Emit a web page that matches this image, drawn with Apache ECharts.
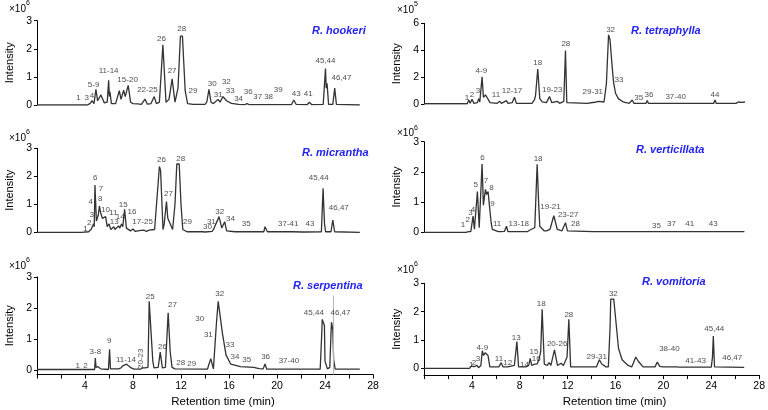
<!DOCTYPE html>
<html>
<head>
<meta charset="utf-8">
<title>Rauvolfia chromatograms</title>
<script src="https://cdn.jsdelivr.net/npm/echarts@6/dist/echarts.min.js"></script>
<style>
  html, body { margin: 0; padding: 0; background: #fff; }
  #chart { width: 768px; height: 410px; }
</style>
</head>
<body>
<div id="chart"></div>
<script>
  // traces: [retention time (min), intensity]
  var hookeri = [[0,0],[4.2,0],[4.4,0.05],[4.5,0.02],[4.6,0.15],[4.75,0.05],[4.91,0.56],[5.05,0.15],[5.33,0.36],[5.6,0.08],[5.85,0.1],[5.97,0.88],[6.03,0.3],[6.08,0.47],[6.2,0.05],[6.55,0.05],[6.86,0.51],[7.0,0.2],[7.22,0.53],[7.35,0.3],[7.6,0.7],[7.8,0.1],[8.0,0.05],[8.4,0.04],[8.7,0.02],[9.0,0.21],[9.2,0.03],[9.5,0.05],[9.77,0.3],[9.95,0.05],[10.2,0.1],[10.49,2.14],[10.75,0.1],[11.0,0.2],[11.26,0.93],[11.5,0.1],[11.75,0.6],[11.95,2.45],[12.12,2.45],[12.35,0.5],[12.55,0.05],[13.0,0.02],[14.0,0.02],[14.15,0.1],[14.33,0.56],[14.5,0.1],[14.7,0.05],[15.09,0.2],[15.25,0.1],[15.5,0.3],[15.8,0.15],[16.2,0.06],[16.8,0.02],[17.3,0.01],[17.5,0.05],[17.7,0.01],[18.8,0.01],[18.9,0.04],[19.1,0.01],[21.2,0.01],[21.4,0.18],[21.6,0.02],[22.5,0.01],[22.7,0.1],[22.9,0.01],[23.85,0.02],[24.04,1.3],[24.1,0.6],[24.17,0.77],[24.3,0.02],[24.65,0.02],[24.81,0.6],[24.95,0.02],[26.9,0]];
  var tetraphylla = [[0,0.02],[2.35,0.02],[2.42,0.08],[2.5,0.02],[3.6,0.02],[3.73,0.3],[3.85,0.05],[4.0,0.35],[4.15,0.05],[4.45,0.1],[4.56,0.4],[4.65,0.15],[4.84,2.03],[4.95,0.5],[5.12,0.67],[5.25,0.5],[5.35,0.45],[5.5,0.1],[6.1,0.05],[6.31,0.2],[6.45,0.05],[6.87,0.25],[7.0,0.05],[7.35,0.1],[7.54,0.5],[7.7,0.05],[9.0,0.05],[9.2,0.3],[9.29,0.6],[9.35,0.5],[9.48,2.6],[9.65,0.4],[9.85,0.15],[10.2,0.1],[10.46,0.55],[10.65,0.1],[11.1,0.2],[11.3,0.05],[11.65,0.2],[11.79,3.97],[11.9,0.1],[13.6,0.05],[13.65,0.1],[13.75,0.05],[14.35,0.15],[14.45,0.08],[14.57,0.2],[14.7,0.1],[15.0,0.15],[15.2,1.5],[15.38,5.14],[15.5,4.8],[15.68,2.78],[15.8,1.6],[15.96,0.8],[16.2,0.4],[16.6,0.15],[17.1,0.05],[17.35,0.3],[17.5,0.05],[18.5,0.05],[18.6,0.25],[18.7,0.05],[19.5,0.05],[19.58,0.1],[19.7,0.05],[24.15,0.05],[24.25,0.3],[24.35,0.05],[26.0,0.05],[26.2,0.15],[26.5,0.12],[26.75,0.15]];
  var micrantha = [[0,0],[3.5,0],[3.6,0.03],[3.7,0],[4.3,0.02],[4.5,0.1],[4.6,0.05],[4.72,0.3],[4.77,0.2],[4.83,1.69],[4.95,0.4],[5.1,0.6],[5.2,0.94],[5.3,0.7],[5.45,0.5],[5.72,0.56],[5.85,0.2],[6.0,0.3],[6.15,0.1],[6.4,0.2],[6.5,0.1],[6.8,0.23],[6.9,0.15],[7.05,0.3],[7.15,0.2],[7.3,0.82],[7.45,0.15],[7.6,0.1],[7.8,0.05],[8.0,0.12],[8.2,0.03],[8.5,0.06],[8.65,0.02],[8.9,0.08],[9.1,0.03],[9.35,0.08],[9.5,0.05],[9.8,0.1],[10.05,1.5],[10.2,2.35],[10.3,2.2],[10.5,0.1],[10.6,0.3],[10.79,1.1],[10.9,0.5],[11.0,0.45],[11.3,0.1],[11.5,1.0],[11.65,2.44],[11.85,2.44],[12.0,1.0],[12.15,0.1],[12.5,0.02],[13.8,0.02],[13.9,0.03],[14.0,0.01],[14.6,0.03],[14.76,0.15],[14.85,0.1],[15.17,0.56],[15.4,0.15],[15.64,0.38],[15.8,0.05],[16.5,0.02],[18.9,0.02],[19.0,0.2],[19.2,0.02],[20.3,0.02],[20.4,0.04],[20.5,0.02],[21.1,0.02],[21.2,0.08],[21.3,0.02],[22.1,0.01],[22.2,0.03],[22.3,0.01],[23.7,0.02],[23.84,1.57],[23.9,0.9],[23.96,0.3],[24.05,0.02],[24.5,0.02],[24.65,0.44],[24.8,0.02],[26.9,0]];
  var verticillata = [[0,0],[3.3,0],[3.4,0.03],[3.5,0],[3.7,0.02],[3.8,0.05],[3.9,0.02],[4.09,0.54],[4.2,0.1],[4.45,1.35],[4.6,0.15],[4.84,2.26],[4.95,0.9],[5.12,1.42],[5.22,1.25],[5.34,1.35],[5.45,0.9],[5.6,0.3],[5.7,0.1],[6.2,0.02],[6.3,0.08],[6.4,0.02],[6.7,0.03],[6.87,0.2],[7.0,0.02],[8.6,0.02],[8.95,0.1],[9.23,0.15],[9.43,2.25],[9.55,1.0],[9.65,0.2],[10.0,0.05],[10.2,0.05],[10.5,0.1],[10.82,0.55],[11.1,0.1],[11.5,0.05],[11.79,0.32],[11.95,0.05],[14.1,0.02],[14.2,0.06],[14.3,0.02],[17.2,0.02],[17.3,0.05],[17.4,0.02],[18.9,0.02],[19.0,0.05],[19.1,0.02],[26.7,0.02]];
  var serpentina = [[0,0.03],[3.4,0.03],[3.48,0.08],[3.55,0.03],[4.0,0.03],[4.1,0.05],[4.2,0.03],[4.8,0.03],[4.86,0.4],[4.92,0.1],[5.1,0.12],[5.3,0.05],[5.95,0.03],[6.05,0.68],[6.12,0.05],[6.8,0.05],[6.86,0.1],[7.0,0.08],[7.15,0.15],[7.3,0.12],[7.46,0.2],[7.6,0.15],[7.85,0.08],[8.1,0.04],[8.6,0.04],[8.8,0.08],[9.0,0.08],[9.1,0.04],[9.25,0.1],[9.35,2.22],[9.48,2.22],[9.65,0.3],[9.75,0.08],[10.1,0.1],[10.27,0.59],[10.45,0.08],[10.7,0.1],[10.93,1.85],[11.1,0.6],[11.25,0.1],[11.5,0.05],[14.2,0.04],[14.48,0.38],[14.7,0.05],[14.85,0.1],[14.95,1.5],[15.1,2.22],[15.2,2.2],[15.45,1.2],[15.75,0.5],[16.15,0.2],[16.95,0.12],[18.07,0.1],[18.5,0.06],[18.85,0.05],[19.0,0.21],[19.15,0.04],[21.0,0.04],[21.1,0.06],[21.2,0.04],[23.6,0.04],[23.72,1.1],[23.77,1.64],[23.85,1.6],[23.95,1.45],[24.0,0.3],[24.2,0.05],[24.4,0.1],[24.5,1.2],[24.54,1.55],[24.65,1.3],[24.72,0.35],[24.85,0.04],[26.9,0.04]];
  var vomitoria = [[0,0],[3.8,0],[3.95,0.08],[4.05,0.02],[4.2,0.06],[4.3,0.02],[4.45,0.1],[4.55,0.02],[4.75,0.1],[4.87,0.62],[4.98,0.45],[5.1,0.55],[5.2,0.55],[5.35,0.45],[5.5,0.05],[6.25,0.05],[6.45,0.2],[6.6,0.05],[7.0,0.05],[7.55,0.1],[7.76,0.94],[7.9,0.05],[8.3,0.05],[8.5,0.05],[8.75,0.1],[8.87,0.35],[9.0,0.1],[9.25,0.15],[9.32,0.2],[9.45,0.15],[9.6,0.3],[9.75,0.6],[9.87,2.08],[10.05,0.15],[10.3,0.1],[10.45,0.2],[10.6,0.1],[10.9,0.65],[11.15,0.1],[11.45,0.18],[11.65,0.1],[11.8,0.12],[11.95,0.4],[12.1,1.73],[12.25,0.05],[14.4,0.05],[14.65,0.3],[14.85,0.15],[14.99,0.2],[15.2,0.05],[15.4,0.05],[15.55,1.5],[15.6,2.44],[15.85,2.44],[16.0,1.8],[16.25,0.7],[16.55,0.3],[17.05,0.1],[17.35,0.05],[17.5,0.2],[17.69,0.4],[17.9,0.25],[18.3,0.05],[19.0,0.05],[19.16,0.12],[19.3,0.05],[19.49,0.22],[19.7,0.07],[19.95,0.05],[20.8,0.05],[20.9,0.07],[21.1,0.05],[21.2,0.06],[21.3,0.04],[24.0,0.04],[24.1,0.4],[24.17,1.14],[24.27,0.05],[26.75,0.03]];

  // peak labels: [text, time, intensity, rotation]
  var hookeriLabels = [['1',3.45,0.27],['3',4.14,0.24],['4',4.58,0.33],['5-9',4.72,0.71],['11-14',5.97,1.21],['15-20',7.55,0.89],['22-25',9.2,0.53],['26',10.38,2.37],['27',11.26,1.22],['28',12.06,2.72],['29',13.0,0.51],['30',14.6,0.75],['31',15.1,0.36],['32',15.78,0.83],['33',16.1,0.51],['34',16.8,0.21],['36',17.6,0.47],['37',18.4,0.28],['38',19.3,0.28],['39',20.1,0.53],['43',21.6,0.39],['41',22.6,0.39],['45,44',24.04,1.57],['46,47',25.37,0.98]];
  var tetraphyllaLabels = [['1',3.59,0.47],['2',4.0,0.67],['3',4.5,0.99],['4-9',4.78,2.48],['11',6.0,0.72],['12-17',7.34,0.99],['18',9.48,3.1],['19-23',10.68,1.04],['28',11.82,4.44],['29-31',14.07,0.89],['32',15.55,5.51],['33',16.24,1.79],['35',17.9,0.47],['36',18.74,0.72],['37-40',20.97,0.55],['44',24.25,0.72]];
  var micranthaLabels = [['1',4.03,0.14],['2',4.36,0.35],['3',4.56,0.64],['4',4.47,1.1],['6',4.86,1.93],['7',5.33,1.55],['8',5.27,1.18],['10',5.7,0.82],['11',6.35,0.71],['13',6.44,0.38],['14',6.94,0.56],['15',7.19,0.98],['16',7.91,0.74],['17-25',8.8,0.38],['26',10.38,2.58],['27',10.96,1.37],['28',11.98,2.64],['29',12.54,0.38],['30',14.2,0.2],['31',14.53,0.38],['32',15.22,0.74],['34',16.13,0.5],['35',17.44,0.29],['37-41',20.94,0.32],['43',22.74,0.29],['45,44',23.48,1.93],['46,47',25.15,0.86]];
  var verticillataLabels = [['1',3.25,0.24],['2',3.64,0.4],['3',3.87,0.66],['4',4.09,0.74],['5',4.31,1.57],['6',4.87,2.48],['7',5.17,1.71],['8',5.62,1.48],['9',5.7,0.94],['11',6.09,0.29],['13-18',7.9,0.29],['18',9.51,2.45],['19-21',10.54,0.83],['23-27',12.01,0.57],['28',12.63,0.29],['35',19.38,0.22],['37',20.63,0.28],['41',22.14,0.28],['43',24.1,0.29]];
  var serpentinaLabels = [['1',3.39,0.14],['2',4.03,0.14],['3-8',4.86,0.61],['9',6.02,0.94],['11-14',7.41,0.34],['20-23',8.66,0.375,90],['25',9.44,2.36],['26',10.46,0.75],['27',11.29,2.12],['28',11.98,0.25],['29',12.9,0.21],['30',13.56,1.66],['31',14.28,1.16],['32',15.22,2.47],['33',16.08,0.83],['34',16.5,0.43],['35',17.47,0.34],['36',19.05,0.45],['37-40',20.99,0.3],['45,44',23.07,1.85],['46,47',25.29,1.85]];
  var vomitoriaLabels = [['1',3.95,0.14],['2',4.17,0.21],['3',4.5,0.35],['4-9',4.87,0.71],['11',6.26,0.32],['12',7.0,0.18],['13',7.7,1.06],['14',8.4,0.14],['15',9.18,0.59],['16',9.37,0.33],['18',9.79,2.29],['20-26',11.12,0.86],['28',12.1,1.88],['29-31',14.43,0.41],['32',15.82,2.62],['38-40',20.5,0.68],['41-43',22.69,0.26],['45,44',24.25,1.39],['46,47',25.75,0.38]];

  // thin grey cursor line in the serpentina panel: [time, top]
  var serpentinaCursor = [24.65, 2.4];

  var yTicks3 = [0, 1, 2, 3];
  var yTicks6 = [0, 2, 4, 6];
  var xRange = [0, 28];

  var FONT = '"Liberation Sans", Arial, sans-serif';
  var BLUE = '#2424f0';

  // box: [left, top, height]
  var panels = [
    {name: 'R. hookeri', trace: hookeri, labels: hookeriLabels, exp: '6', ticks: yTicks3, min: 0, box: [37, 20.7, 84.3], titleAt: [312, 25], expAt: [9, 0]},
    {name: 'R. tetraphylla', trace: tetraphylla, labels: tetraphyllaLabels, exp: '5', ticks: yTicks6, min: 0, box: [424, 23.3, 80.7], titleAt: [631, 25], expAt: [397, 1]},
    {name: 'R. micrantha', trace: micrantha, labels: micranthaLabels, exp: '6', ticks: yTicks3, min: 0, box: [37, 148.3, 84], titleAt: [302, 147], expAt: [9, 129]},
    {name: 'R. verticillata', trace: verticillata, labels: verticillataLabels, exp: '6', ticks: yTicks3, min: 0, box: [424, 141.7, 90.6], titleAt: [636, 144], expAt: [397, 124.5]},
    {name: 'R. serpentina', trace: serpentina, labels: serpentinaLabels, exp: '6', ticks: yTicks3, min: -0.13, box: [37, 277, 97.5], titleAt: [293, 280.5], expAt: [9, 257], bottom: true, shift: 36},
    {name: 'R. vomitoria', trace: vomitoria, labels: vomitoriaLabels, exp: '6', ticks: yTicks3, min: -0.24, box: [424, 283.3, 91.8], titleAt: [642, 276], expAt: [397, 261], bottom: true, shift: 46}
  ];

  var grid = [], xAxis = [], yAxis = [], series = [], title = [];

  panels.forEach(function (p, i) {
    grid.push({left: p.box[0], top: p.box[1], width: 336, height: p.box[2]});

    xAxis.push({
      gridIndex: i, type: 'value', min: xRange[0], max: xRange[1], interval: 2,
      show: !!p.bottom,
      axisLine: {onZero: false, lineStyle: {color: '#000', width: 1}},
      axisTick: {show: true, length: 4, lineStyle: {color: '#000'}},
      axisLabel: {
        margin: 6, fontSize: 10.5, color: '#000', fontFamily: FONT,
        formatter: function (v) { return (v > 0 && v % 4 === 0) ? String(v) : ''; }
      },
      splitLine: {show: false},
      name: p.bottom ? 'Retention time (min)' : '',
      nameLocation: 'middle', nameGap: 21,
      nameTextStyle: {fontSize: 11.5, color: '#000', fontFamily: FONT, padding: [0, 0, 0, p.shift || 0]}
    });

    yAxis.push({
      gridIndex: i, type: 'value', min: p.min, max: p.ticks[p.ticks.length - 1],
      axisLine: {show: true, onZero: false, lineStyle: {color: '#000', width: 1}},
      axisTick: {show: true, length: 3, customValues: p.ticks, lineStyle: {color: '#000'}},
      axisLabel: {customValues: p.ticks, margin: 5, fontSize: 10.5, color: '#000', fontFamily: FONT},
      splitLine: {show: false},
      name: 'Intensity', nameLocation: 'middle', nameGap: 22,
      nameTextStyle: {fontSize: 11, color: '#000', fontFamily: FONT}
    });

    var line = {
      type: 'line', xAxisIndex: i, yAxisIndex: i, data: p.trace,
      showSymbol: false, symbol: 'none', silent: true,
      lineStyle: {color: '#333', width: 1.3}
    };
    if (p.name === 'R. serpentina') {
      line.markLine = {
        silent: true, symbol: 'none', label: {show: false},
        lineStyle: {color: '#b5b5b5', width: 1, type: 'solid'},
        data: [[{coord: [serpentinaCursor[0], p.min]}, {coord: [serpentinaCursor[0], serpentinaCursor[1]]}]]
      };
    }
    series.push(line);

    series.push({
      type: 'scatter', xAxisIndex: i, yAxisIndex: i, symbolSize: 1, silent: true, clip: false, z: 5,
      itemStyle: {color: 'rgba(0,0,0,0)'},
      label: {show: true, position: 'inside', color: '#222', fontSize: 8, fontFamily: FONT},
      data: p.labels.map(function (l) {
        return {value: [l[1], l[2]], label: {formatter: l[0], rotate: l[3] || 0}};
      })
    });

    title.push({
      text: p.name, left: p.titleAt[0], top: p.titleAt[1], padding: 0,
      textStyle: {color: BLUE, fontStyle: 'italic', fontWeight: 'bold', fontSize: 11, fontFamily: FONT}
    });
    title.push({
      text: '{a|×10}{b|' + p.exp + '}', left: p.expAt[0], top: p.expAt[1], padding: 0,
      textStyle: {
        fontWeight: 'normal',
        rich: {
          a: {fontSize: 10, fontWeight: 'normal', color: '#000', fontFamily: FONT, lineHeight: 14, verticalAlign: 'bottom'},
          b: {fontSize: 7, fontWeight: 'normal', color: '#000', fontFamily: FONT, verticalAlign: 'top'}
        }
      }
    });
  });

  var chart = echarts.init(document.getElementById('chart'), null, {renderer: 'canvas'});
  chart.setOption({
    animation: false,
    backgroundColor: '#fff',
    title: title,
    grid: grid,
    xAxis: xAxis,
    yAxis: yAxis,
    series: series
  });
  window.addEventListener('resize', function () { chart.resize(); });
</script>
</body>
</html>
